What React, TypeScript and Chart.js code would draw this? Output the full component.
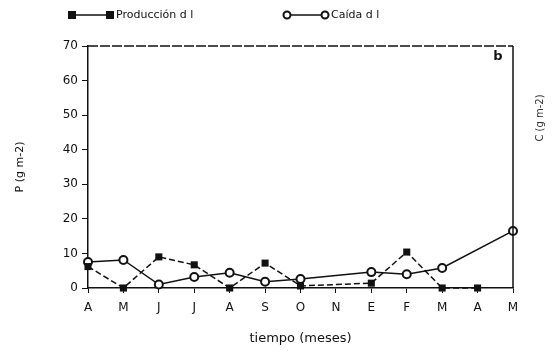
import React, { useEffect, useRef } from "react";
import { Chart, registerables } from "chart.js";

Chart.register(...registerables);

const months = ["A", "M", "J", "J", "A", "S", "O", "N", "E", "F", "M", "A", "M"];
const produccion = [6.2, 0, 9, 6.7, 0, 7.2, 0.6, null, 1.4, 10.4, 0, 0, null];
const caida = [7.5, 8.1, 1, 3.2, 4.4, 1.8, 2.6, null, 4.6, 4.0, 5.8, null, 16.5];
const yTicks = [0, 10, 20, 30, 40, 50, 60, 70];
const seriesNames = ["Producción d l", "Caída d l"];
const panelLabel = "b";
const rightTitle = "C (g m-2)";

const FONT = "'DejaVu Sans', sans-serif";
const INK = "#111";

const decorPlugin = {
  id: "decor",
  afterDraw(chart: any) {
    const { ctx, chartArea } = chart;
    const { left, right, top, bottom } = chartArea;
    ctx.save();
    ctx.strokeStyle = INK;
    ctx.lineWidth = 1.5;
    ctx.beginPath();
    ctx.setLineDash([10, 2]);
    ctx.moveTo(left, top);
    ctx.lineTo(right, top);
    ctx.stroke();
    ctx.setLineDash([]);
    ctx.beginPath();
    ctx.moveTo(right, top);
    ctx.lineTo(right, bottom);
    ctx.stroke();

    ctx.fillStyle = INK;
    ctx.font = `bold 13px ${FONT}`;
    ctx.textAlign = "center";
    ctx.textBaseline = "middle";
    ctx.fillText(panelLabel, right - 15, top + 11);

    ctx.save();
    ctx.translate(540, 118);
    ctx.rotate(-Math.PI / 2);
    ctx.font = `10px ${FONT}`;
    ctx.fillStyle = "#333";
    ctx.fillText(rightTitle, 0, 0);
    ctx.restore();

    const ly = 15;
    ctx.font = `11px ${FONT}`;
    ctx.textAlign = "left";
    ctx.textBaseline = "middle";
    const items = [
      { x: 72, style: "rect" },
      { x: 287, style: "circle" },
    ];
    items.forEach((it, i) => {
      const x1 = it.x;
      const x2 = it.x + 38;
      ctx.strokeStyle = INK;
      ctx.lineWidth = 1.5;
      ctx.beginPath();
      ctx.moveTo(x1, ly);
      ctx.lineTo(x2, ly);
      ctx.stroke();
      [x1, x2].forEach((px) => {
        if (it.style === "rect") {
          ctx.fillStyle = INK;
          ctx.fillRect(px - 4, ly - 4, 8, 8);
        } else {
          ctx.beginPath();
          ctx.arc(px, ly, 3.5, 0, Math.PI * 2);
          ctx.fillStyle = "#fff";
          ctx.fill();
          ctx.lineWidth = 2;
          ctx.strokeStyle = INK;
          ctx.stroke();
        }
      });
      ctx.fillStyle = INK;
      ctx.fillText(chart.data.datasets[i].label, x2 + 6, ly);
    });
    ctx.restore();
  },
};

export default function App() {
  const ref = useRef<HTMLCanvasElement | null>(null);

  useEffect(() => {
    if (!ref.current) return;
    const chart = new Chart(ref.current, {
      type: "line",
      data: {
        labels: months,
        datasets: [
          {
            label: seriesNames[0],
            data: produccion,
            borderColor: INK,
            backgroundColor: INK,
            borderWidth: 1.5,
            borderDash: [6, 3],
            pointStyle: "rect",
            pointRadius: 5,
            pointBorderWidth: 0,
            pointBackgroundColor: INK,
            spanGaps: true,
            tension: 0,
            clip: false,
          },
          {
            label: seriesNames[1],
            data: caida,
            borderColor: INK,
            backgroundColor: "#fff",
            borderWidth: 1.5,
            pointStyle: "circle",
            pointRadius: 4,
            pointBorderWidth: 2,
            pointBackgroundColor: "#fff",
            pointBorderColor: INK,
            spanGaps: true,
            tension: 0,
            clip: false,
          },
        ],
      },
      options: {
        animation: false,
        responsive: false,
        devicePixelRatio: 1,
        layout: { padding: { left: 0, right: 41, top: 46, bottom: 0 } },
        plugins: {
          legend: { display: false },
          tooltip: { enabled: false },
        },
        scales: {
          x: {
            type: "category",
            offset: false,
            border: { color: INK, width: 1.5 },
            grid: {
              display: true,
              drawOnChartArea: false,
              color: INK,
              tickLength: 5,
              lineWidth: 1,
            },
            ticks: {
              color: INK,
              font: { family: FONT, size: 12 },
              padding: 8,
              maxRotation: 0,
              autoSkip: false,
            },
            title: {
              display: true,
              text: "tiempo (meses)",
              color: INK,
              font: { family: FONT, size: 13 },
              padding: { top: 0, bottom: 5 },
            },
            afterFit(scale: any) {
              scale.height = 63;
            },
          },
          y: {
            min: 0,
            max: 70,
            border: { color: INK, width: 1.5 },
            grid: {
              display: true,
              drawOnChartArea: false,
              color: INK,
              tickLength: 6,
            },
            afterBuildTicks(scale: any) {
              scale.ticks = yTicks.map((v) => ({ value: v }));
            },
            ticks: {
              color: INK,
              font: { family: FONT, size: 12 },
              padding: 4,
            },
            title: {
              display: true,
              text: "P (g m-2)",
              color: INK,
              font: { family: FONT, size: 11 },
              padding: { top: 14, bottom: 0 },
            },
            afterFit(scale: any) {
              scale.width = 88;
            },
          },
        },
      },
      plugins: [decorPlugin],
    });
    return () => chart.destroy();
  }, []);

  return (
    <div style={{ position: "fixed", left: 0, top: 0, width: 554, height: 351, background: "#fff" }}>
      <canvas ref={ref} width={554} height={351} style={{ width: 554, height: 351 }} />
    </div>
  );
}
